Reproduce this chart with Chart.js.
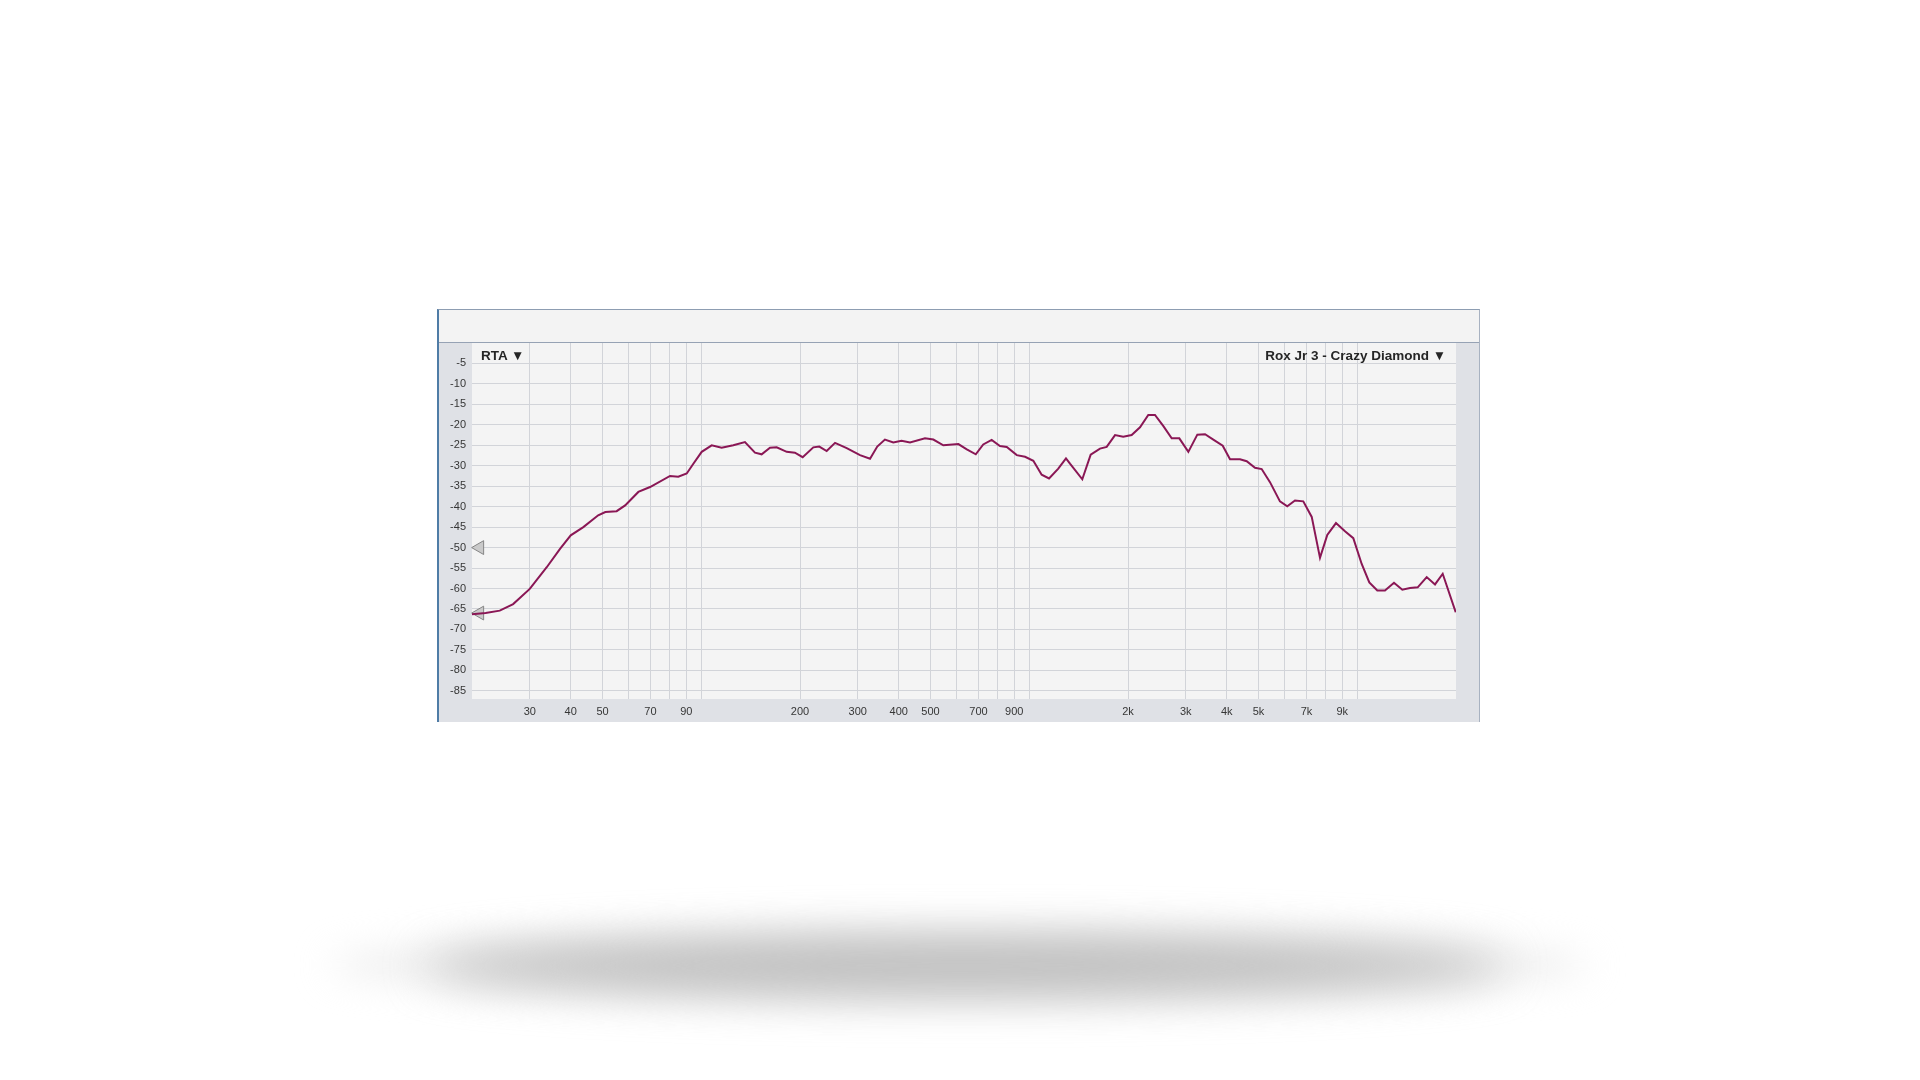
<!DOCTYPE html>
<html>
<head>
<meta charset="utf-8">
<title>RTA - Rox Jr 3 - Crazy Diamond</title>
<script src="https://cdn.jsdelivr.net/npm/chart.js@4.4.1/dist/chart.umd.min.js"></script>
<style>
    html, body { margin: 0; padding: 0; background: #ffffff; width: 1920px; height: 1080px; overflow: hidden; }
    .panel {
        position: absolute; left: 437px; top: 309px; width: 1043px; height: 413px;
        box-sizing: border-box; background: #dfe1e6;
        border-left: 2px solid #4f7ca6; border-top: 1px solid #8d9db2; border-right: 1px solid #a8b2c1;
    }
    .header {
        position: absolute; left: 0; top: 0; right: 0; height: 32px;
        background: #f3f3f3; border-bottom: 1px solid #96a2b4;
    }
    #rtaChart { position: absolute; left: 437px; top: 330px; }
    .label {
        position: absolute; top: 348px; font-family: "Liberation Sans", Arial, sans-serif;
        font-weight: bold; font-size: 13.5px; color: #262626; white-space: nowrap; line-height: 16px;
    }
    #leftLabel { left: 481px; }
    #rightLabel { right: 474px; }
    .shadow {
        position: absolute; border-radius: 50%;
    }
    #shadowWide { left: 330px; top: 935px; width: 1260px; height: 60px; background: #ececec; filter: blur(18px); }
    #shadowCore { left: 425px; top: 936px; width: 1080px; height: 60px; background: #bfbfbf; filter: blur(22px); }
</style>
</head>
<body>
<div class="panel"><div class="header"></div></div>
<canvas id="rtaChart" width="1043" height="392"></canvas>
<div class="label" id="leftLabel">RTA ▼</div>
<div class="label" id="rightLabel">Rox Jr 3 - Crazy Diamond ▼</div>
<div class="shadow" id="shadowWide"></div>
<div class="shadow" id="shadowCore"></div>
<script>
    const freqHz = [20, 22, 24.3, 26.7, 30, 33.8, 37.1, 40, 43.7, 48.5, 51, 55.2, 58.6, 64.3, 69.8, 80.3,
        85.1, 90.3, 94.6, 100.3, 107.6, 115.4, 125.2, 135.9, 145.8, 152.8, 162, 169.8, 182.2, 193, 203.8,
        219.6, 229, 241.2, 255.8, 277.6, 304.8, 327, 344, 363, 385, 408, 433, 481, 510, 547, 608, 645,
        687, 724, 768, 814, 854, 916, 971, 1029, 1091, 1149, 1226, 1294, 1331, 1451, 1539, 1643, 1722,
        1826, 1934, 2052, 2176, 2306, 2417, 2564, 2718, 2867, 3055, 3254, 3435, 3640, 3889, 4093, 4390,
        4602, 4878, 5112, 5419, 5812, 6118, 6458, 6846, 7264, 7698, 8102, 8612, 9174, 9726, 10316,
        10882, 11510, 12148, 12942, 13720, 14482, 15284, 16282, 17260, 18218, 19958];
    const levelDb = [-66.3, -66.0, -65.4, -63.8, -60.1, -54.8, -50.3, -47.0, -45.0, -42.1, -41.3, -41.1,
        -39.7, -36.4, -35.2, -32.5, -32.7, -31.9, -29.5, -26.6, -25.0, -25.6, -25.0, -24.2, -26.8, -27.2,
        -25.6, -25.5, -26.6, -26.8, -27.9, -25.5, -25.3, -26.4, -24.4, -25.7, -27.4, -28.3, -25.3, -23.6,
        -24.3, -23.9, -24.3, -23.3, -23.6, -25.0, -24.7, -26.0, -27.2, -24.8, -23.7, -25.2, -25.4, -27.4,
        -27.8, -28.8, -32.2, -33.1, -30.7, -28.2, -29.5, -33.3, -27.3, -25.8, -25.4, -22.5, -22.9, -22.5,
        -20.6, -17.6, -17.6, -20.3, -23.3, -23.3, -26.6, -22.4, -22.3, -23.6, -25.1, -28.4, -28.4, -28.9,
        -30.5, -30.8, -34.0, -38.7, -39.9, -38.5, -38.7, -42.5, -52.5, -46.9, -44.0, -46.0, -47.7, -54.0,
        -58.5, -60.5, -60.5, -58.6, -60.3, -59.9, -59.7, -57.2, -59.0, -56.4, -65.8];

    // level handles on the left edge
    const handleHz = [21.1, 21.1];
    const handleDb = [-50, -66];

    const dbTicks = [-5, -10, -15, -20, -25, -30, -35, -40, -45, -50, -55, -60, -65, -70, -75, -80, -85];
    const freqGrid = [30, 40, 50, 60, 70, 80, 90, 100, 200, 300, 400, 500, 600, 700, 800, 900,
        1000, 2000, 3000, 4000, 5000, 6000, 7000, 8000, 9000, 10000];
    const freqLabelValues = [30, 40, 50, 70, 90, 200, 300, 400, 500, 700, 900, 2000, 3000, 4000, 5000, 7000, 9000];
    const freqLabelTexts = ['30', '40', '50', '70', '90', '200', '300', '400', '500', '700', '900',
        '2k', '3k', '4k', '5k', '7k', '9k'];

    const plotBackground = {
        id: 'plotBackground',
        beforeDraw: function (chart) {
            const a = chart.chartArea;
            const ctx = chart.ctx;
            ctx.save();
            ctx.fillStyle = '#f4f4f4';
            ctx.fillRect(a.left, a.top, a.right - a.left, a.bottom - a.top);
            ctx.restore();
        }
    };

    function buildPoints(xs, ys) {
        const pts = [];
        for (let i = 0; i < xs.length; i++)
            pts.push({ x: xs[i], y: ys[i] });
        return pts;
    }

    const tickFont = { family: '"Liberation Sans", Arial, sans-serif', size: 11 };

    const config = {
        type: 'line',
        data: {
            datasets: [{
                label: 'RTA',
                data: buildPoints(freqHz, levelDb),
                borderColor: '#8a1755',
                borderWidth: 2,
                pointRadius: 0,
                tension: 0,
                fill: false
            }, {
                label: 'handles',
                type: 'scatter',
                data: buildPoints(handleHz, handleDb),
                pointStyle: 'triangle',
                rotation: -90,
                pointRadius: 8,
                backgroundColor: '#cacaca',
                borderColor: '#858585',
                borderWidth: 1,
                clip: false
            }]
        },
        options: {
            responsive: false,
            animation: false,
            devicePixelRatio: 1,
            layout: { padding: { top: 13, right: 24, left: 0, bottom: 0 } },
            plugins: { legend: { display: false }, tooltip: { enabled: false } },
            scales: {
                x: {
                    type: 'logarithmic',
                    min: 20,
                    max: 20000,
                    afterBuildTicks: function (scale) {
                        scale.ticks = freqGrid.map(function (v) { return { value: v }; });
                    },
                    afterFit: function (scale) { scale.height = 23; },
                    grid: { color: '#d2d4d9', lineWidth: 1, drawTicks: false },
                    border: { display: false },
                    ticks: {
                        autoSkip: false,
                        maxRotation: 0,
                        padding: 6,
                        color: '#363636',
                        font: tickFont,
                        callback: function (value) {
                            const ix = freqLabelValues.indexOf(value);
                            return ix >= 0 ? freqLabelTexts[ix] : '';
                        }
                    }
                },
                y: {
                    min: -87,
                    max: 0,
                    afterBuildTicks: function (scale) {
                        scale.ticks = dbTicks.map(function (v) { return { value: v }; });
                    },
                    afterFit: function (scale) { scale.width = 35; },
                    grid: { color: '#d2d4d9', lineWidth: 1, drawTicks: false },
                    border: { display: false },
                    ticks: {
                        padding: 6,
                        color: '#363636',
                        font: tickFont,
                        callback: function (value) { return String(value); }
                    }
                }
            }
        },
        plugins: [plotBackground]
    };

    new Chart(document.getElementById('rtaChart'), config);
</script>
</body>
</html>
